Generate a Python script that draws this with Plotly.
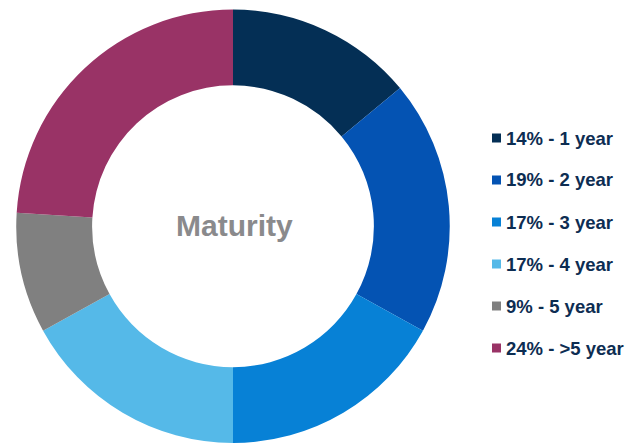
import plotly.graph_objects as go

categories = ["1 year", "2 year", "3 year", "4 year", "5 year", ">5 year"]
values = [14, 19, 17, 17, 9, 24]
colors = ["#042f55", "#0453b3", "#0781d6", "#55b9e8", "#808080", "#993366"]
center_title = "Maturity"

W, H = 637, 443
FONT = "Liberation Sans, Arial, sans-serif"
fig = go.Figure()

fig.add_trace(go.Pie(
    labels=categories,
    values=values,
    marker=dict(colors=colors, line=dict(width=0)),
    hole=0.65,
    sort=False,
    direction="clockwise",
    rotation=0,
    textinfo="none",
    hoverinfo="label+percent",
    showlegend=False,
    domain=dict(x=[15 / W, 451 / W], y=[0, 433.5 / H]),
))

annotations = [dict(
    text=f"<b>{center_title}</b>", x=235 / W, y=1 - 226 / H,
    xref="paper", yref="paper", xanchor="center", yanchor="middle",
    showarrow=False, font=dict(family=FONT, size=30, color="#8a8a8c"),
)]
shapes = []
y0, gap = 138, 42
for i, (cat, val, col) in enumerate(zip(categories, values, colors)):
    yc = y0 + i * gap
    annotations.append(dict(
        text=f"<b>{val}% - {cat.replace('>', '&gt;')}</b>", x=504 / W, y=1 - yc / H,
        xref="paper", yref="paper", xanchor="left", yanchor="middle",
        showarrow=False, font=dict(family=FONT, size=18.5, color="#0d2d52"),
    ))
    shapes.append(dict(
        type="rect", xref="paper", yref="paper",
        x0=492 / W, x1=501 / W, y0=1 - (yc + 4.5) / H, y1=1 - (yc - 4.5) / H,
        fillcolor=col, line=dict(width=0),
    ))

fig.update_layout(
    width=W, height=H,
    margin=dict(l=0, r=0, t=0, b=0),
    paper_bgcolor="white", plot_bgcolor="white",
    annotations=annotations, shapes=shapes,
    showlegend=False,
)

fig.write_html("out.html", config={"displayModeBar": False},
               post_script="document.body.style.margin='0';")
